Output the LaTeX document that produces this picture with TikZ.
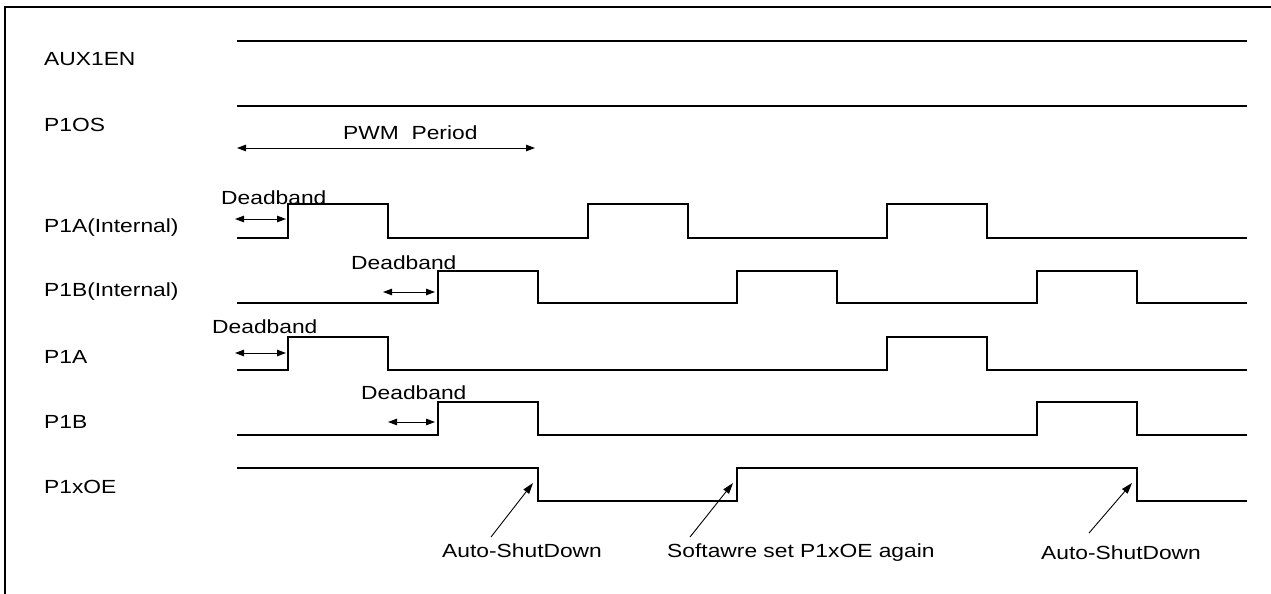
\documentclass[tikz,border=0pt]{standalone}
\usepackage{fontspec}
\usepackage{graphicx}
\setmainfont{Liberation Sans}
\usetikzlibrary{arrows.meta}
\tikzset{
  lbl/.style={anchor=base west, inner sep=0pt, font=\fontsize{19}{21}\selectfont},
  sig/.style={line width=2.2pt, line join=miter},
  dim/.style={line width=1pt, {Triangle[length=9pt,width=6.5pt]}-{Triangle[length=9pt,width=6.5pt]}},
  pointer/.style={line width=0.9pt, -{Triangle[length=11pt,width=7pt]}},
  frame/.style={line width=1.5pt}
}
\newcommand{\widetxt}[1]{\scalebox{1.2}[1]{#1}}
\begin{document}
\begin{tikzpicture}[x=1pt,y=-1pt]
\useasboundingbox (0,0) rectangle (1271,594);
% frame
\draw[frame] (5,594) -- (5,7) -- (1271,7);
% labels
\node[lbl] (laux) at (44,66) {\widetxt{AUX1EN}};
\node[lbl] (los) at (44,131) {\widetxt{P1OS}};
\node[lbl] (lai) at (44,232) {\widetxt{P1A(Internal)}};
\node[lbl] (lbi) at (44,296) {\widetxt{P1B(Internal)}};
\node[lbl] (la) at (44,363) {\widetxt{P1A}};
\node[lbl] (lb) at (44,428) {\widetxt{P1B}};
\node[lbl] (loe) at (44,493) {\widetxt{P1xOE}};
% waveforms
\draw[sig] (237,41) -- (1247,41);
\draw[sig] (237,106) -- (1247,106);
\draw[sig] (237,238) -- (288,238) -- (288,204) -- (388,204) -- (388,238)
  -- (588,238) -- (588,204) -- (688,204) -- (688,238)
  -- (887,238) -- (887,204) -- (987,204) -- (987,238) -- (1247,238);
\draw[sig] (237,303) -- (438,303) -- (438,271) -- (538,271) -- (538,303)
  -- (737,303) -- (737,271) -- (837,271) -- (837,303)
  -- (1037,303) -- (1037,271) -- (1137,271) -- (1137,303) -- (1247,303);
\draw[sig] (237,370) -- (288,370) -- (288,337) -- (388,337) -- (388,370)
  -- (887,370) -- (887,337) -- (987,337) -- (987,370) -- (1247,370);
\draw[sig] (237,435) -- (438,435) -- (438,402) -- (538,402) -- (538,435)
  -- (1037,435) -- (1037,402) -- (1137,402) -- (1137,435) -- (1247,435);
\draw[sig] (237,468) -- (538,468) -- (538,501) -- (737,501) -- (737,468)
  -- (1137,468) -- (1137,501) -- (1247,501);
% PWM period
\node[lbl] (pwm) at (343,139) {\widetxt{PWM\ \ Period}};
\coordinate (pwmL) at (237,148);
\coordinate (pwmR) at (535,148);
\draw[dim] (pwmL) -- (pwmR);
% deadbands
\node[lbl] (db1) at (221,204) {\widetxt{Deadband}};
\coordinate (d1a) at (235,219); \coordinate (d1b) at (286,219);
\draw[dim] (d1a) -- (d1b);
\node[lbl] (db2) at (351,269) {\widetxt{Deadband}};
\coordinate (d2a) at (383,292); \coordinate (d2b) at (435,292);
\draw[dim] (d2a) -- (d2b);
\node[lbl] (db3) at (212,333) {\widetxt{Deadband}};
\coordinate (d3a) at (235,353); \coordinate (d3b) at (286,353);
\draw[dim] (d3a) -- (d3b);
\node[lbl] (db4) at (361,399) {\widetxt{Deadband}};
\coordinate (d4a) at (388,422); \coordinate (d4b) at (435,422);
\draw[dim] (d4a) -- (d4b);
% annotations
\node[lbl] (as1) at (442,557) {\widetxt{Auto-ShutDown}};
\node[lbl] (sw) at (667,557) {\widetxt{Softawre set P1xOE again}};
\node[lbl] (as2) at (1041,559) {\widetxt{Auto-ShutDown}};
\coordinate (p1s) at (491,537); \coordinate (p1e) at (533,483);
\coordinate (p2s) at (690,537); \coordinate (p2e) at (733,483);
\coordinate (p3s) at (1089,533); \coordinate (p3e) at (1132,483);
\draw[pointer] (p1s) -- (p1e);
\draw[pointer] (p2s) -- (p2e);
\draw[pointer] (p3s) -- (p3e);
\end{tikzpicture}
\end{document}
